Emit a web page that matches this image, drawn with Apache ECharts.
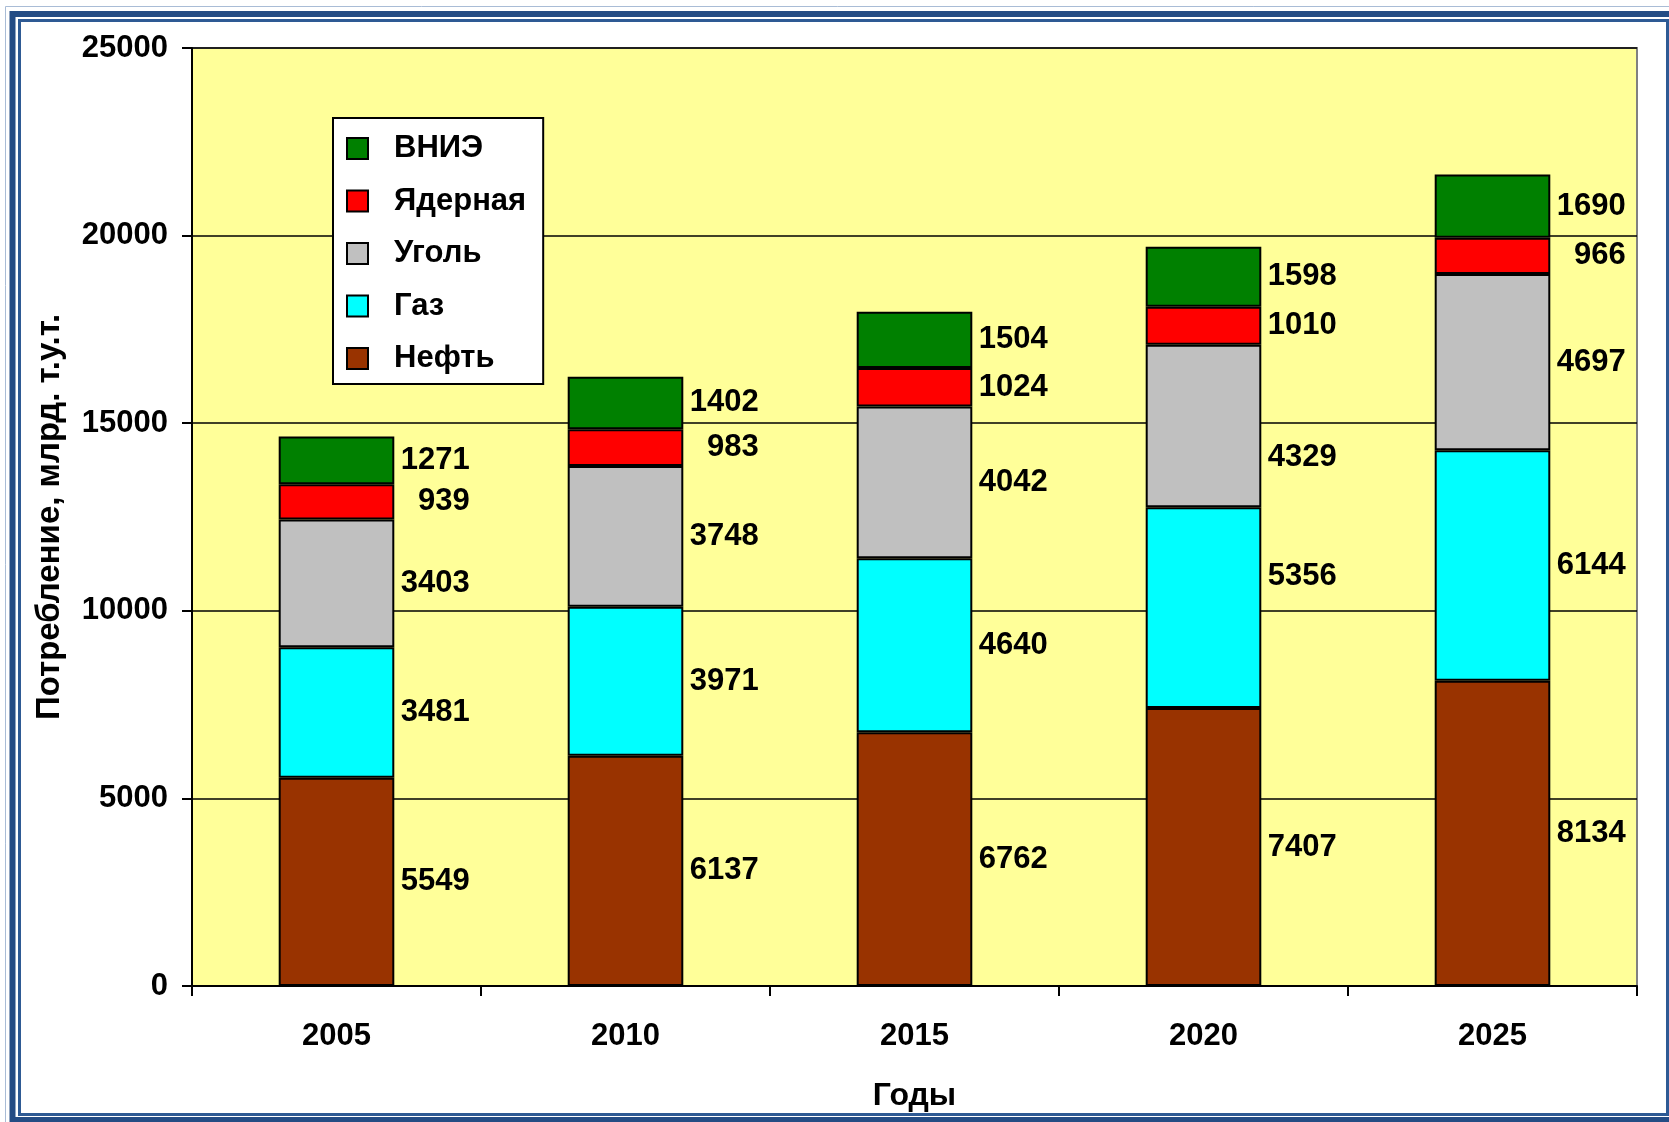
<!DOCTYPE html>
<html>
<head>
<meta charset="utf-8">
<script src="https://cdn.jsdelivr.net/npm/echarts@6/dist/echarts.min.js"></script>
<style>
html,body{margin:0;padding:0;background:#fff;}
#chart{width:1669px;height:1122px;}
</style>
</head>
<body>
<div id="chart"></div>
<script>
const years = ['2005', '2010', '2015', '2020', '2025'];
const oil = [5549, 6137, 6762, 7407, 8134];
const gas = [3481, 3971, 4640, 5356, 6144];
const coal = [3403, 3748, 4042, 4329, 4697];
const nuclear = [939, 983, 1024, 1010, 966];
const renewables = [1271, 1402, 1504, 1598, 1690];
const seriesNames = ['Нефть', 'Газ', 'Уголь', 'Ядерная', 'ВНИЭ'];
const yTicks = [0, 5000, 10000, 15000, 20000, 25000];

const colors = ['#993300', '#00FFFF', '#C0C0C0', '#FF0000', '#008000'];
const font = 'Arial, "Liberation Sans", sans-serif';
const fs = 31;
// manual label nudges (series index -> category index -> y offset)
const labelNudge = { 2: { 3: 32 }, 1: { 3: -31 } };

const chart = echarts.init(document.getElementById('chart'), null, { renderer: 'canvas' });

const allData = [oil, gas, coal, nuclear, renewables];
const series = allData.map((arr, si) => ({
  name: seriesNames[si],
  type: 'bar',
  stack: 'total',
  barWidth: '40%',
  itemStyle: { color: colors[si], borderColor: '#000', borderWidth: 2 },
  label: {
    show: true,
    position: [191, '50%'],
    align: 'right',
    verticalAlign: 'middle',
    color: '#000',
    fontSize: fs,
    fontWeight: 'bold',
    fontFamily: font
  },
  data: arr.map((v, ci) => {
    const n = labelNudge[si] && labelNudge[si][ci];
    return n ? { value: v, label: { offset: [0, n] } } : v;
  })
}));

chart.setOption({
  animation: false,
  backgroundColor: '#fff',
  grid: {
    left: 192, top: 48, width: 1445, height: 938,
    show: true, backgroundColor: '#FFFF99', borderColor: '#808080', borderWidth: 2
  },
  legend: {
    data: ['ВНИЭ', 'Ядерная', 'Уголь', 'Газ', 'Нефть'],
    orient: 'vertical',
    left: 333, top: 118,
    padding: [15, 17, 10, 13],
    itemWidth: 21, itemHeight: 21,
    itemGap: 21.5,
    icon: 'rect',
    backgroundColor: '#fff',
    borderColor: '#000',
    borderWidth: 2,
    textStyle: { fontSize: fs, fontWeight: 'bold', fontFamily: font, color: '#000', lineHeight: 30, padding: [0, 0, 0, 21] }
  },
  xAxis: {
    type: 'category',
    data: years,
    boundaryGap: true,
    name: 'Годы',
    nameLocation: 'middle',
    nameGap: 94,
    nameTextStyle: { fontSize: 32, fontWeight: 'bold', fontFamily: font, color: '#000', verticalAlign: 'top' },
    axisLine: { lineStyle: { color: '#000', width: 2 } },
    axisTick: { show: true, length: 10, lineStyle: { color: '#000', width: 2 } },
    axisLabel: { margin: 35, fontSize: fs, fontWeight: 'bold', fontFamily: font, color: '#000' }
  },
  yAxis: {
    type: 'value',
    min: yTicks[0], max: yTicks[yTicks.length - 1], interval: yTicks[1] - yTicks[0],
    name: 'Потребление, млрд. т.у.т.',
    nameLocation: 'middle',
    nameGap: 126,
    nameTextStyle: { fontSize: 33, fontWeight: 'bold', fontFamily: font, color: '#000' },
    axisLine: { show: true, lineStyle: { color: '#000', width: 2 } },
    axisTick: { show: true, length: 10, lineStyle: { color: '#000', width: 2 } },
    axisLabel: { margin: 24, fontSize: fs, fontWeight: 'bold', fontFamily: font, color: '#000',
      formatter: v => String(v) },
    splitLine: { lineStyle: { color: '#000', width: 1.5 } }
  },
  graphic: [
    { type: 'rect', silent: true, z: 100,
      shape: { x: 5.5, y: 6.5, width: 1700, height: 1200 },
      style: { fill: 'none', stroke: '#A9BCD6', lineWidth: 1 } },
    { type: 'rect', silent: true, z: 100,
      shape: { x: 12.5, y: 14, width: 1700, height: 1106 },
      style: { fill: 'none', stroke: '#244C84', lineWidth: 6 } },
    { type: 'rect', silent: true, z: 100,
      shape: { x: 19.5, y: 20.5, width: 1648, height: 1094 },
      style: { fill: 'none', stroke: '#2E5A94', lineWidth: 3 } }
  ],
  series: series
});
</script>
</body>
</html>
